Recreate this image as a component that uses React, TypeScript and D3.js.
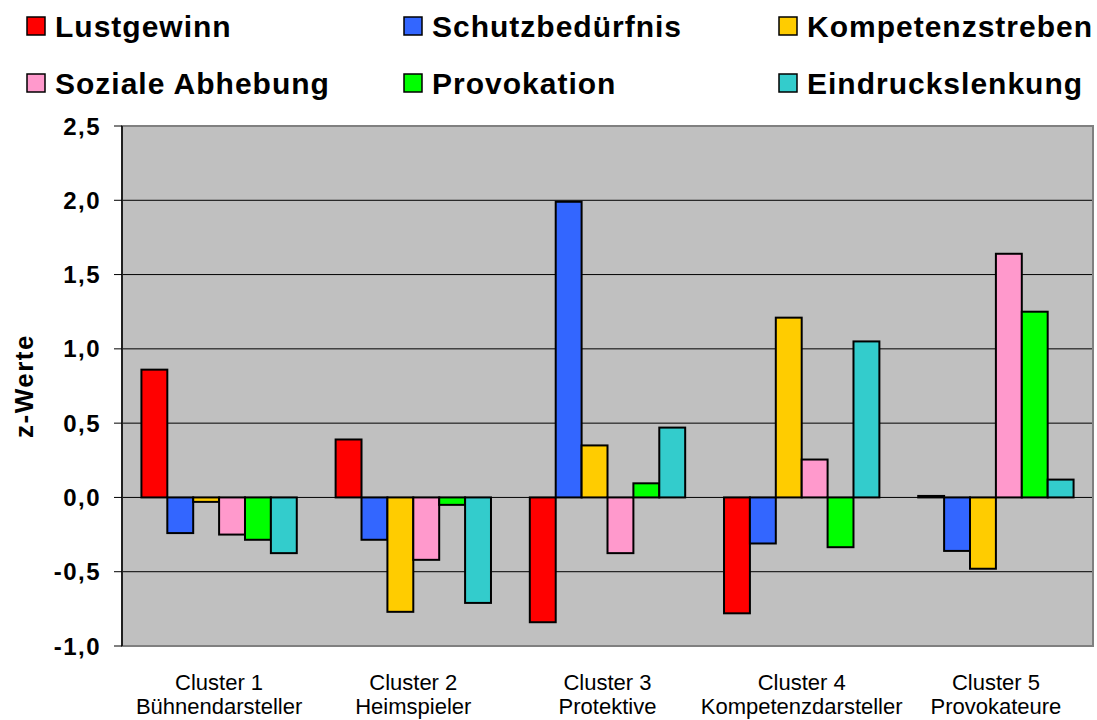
import React from "react";
import * as d3 from "d3";

const clusters = ["Cluster 1", "Cluster 2", "Cluster 3", "Cluster 4", "Cluster 5"];
const clusterNames = ["Bühnendarsteller", "Heimspieler", "Protektive", "Kompetenzdarsteller", "Provokateure"];
const seriesNames = ["Lustgewinn", "Schutzbedürfnis", "Kompetenzstreben", "Soziale Abhebung", "Provokation", "Eindruckslenkung"];
const seriesColors = ["#FF0000", "#3366FF", "#FFCC00", "#FF99CC", "#00FF00", "#33CCCC"];

const lustgewinn = [0.86, 0.39, -0.84, -0.78, 0.01];
const schutzbeduerfnis = [-0.24, -0.285, 1.99, -0.31, -0.36];
const kompetenzstreben = [-0.03, -0.77, 0.35, 1.21, -0.48];
const sozialeAbhebung = [-0.25, -0.42, -0.375, 0.255, 1.64];
const provokation = [-0.285, -0.05, 0.095, -0.335, 1.25];
const eindruckslenkung = [-0.375, -0.71, 0.47, 1.05, 0.12];

const yTicks = [2.5, 2.0, 1.5, 1.0, 0.5, 0.0, -0.5, -1.0];

const seriesValues = [lustgewinn, schutzbeduerfnis, kompetenzstreben, sozialeAbhebung, provokation, eindruckslenkung];

export default function App() {
  const W = 1097, H = 720;
  const left = 122, right = 1093, top = 126, bottom = 646;
  const y = d3.scaleLinear().domain([-1, 2.5]).range([bottom, top]);
  const x0 = d3.scaleBand<string>().domain(clusters).range([left, right]).paddingInner(0.2).paddingOuter(0.1);
  const x1 = d3.scaleBand<string>().domain(seriesNames).range([0, x0.bandwidth()]);
  const font = "Arial, 'Liberation Sans', Helvetica, sans-serif";
  const fmt = (v: number) => v.toFixed(1).replace(".", ",");

  const legendCols = [27, 404, 779];
  const legendRows = [17, 74];

  return (
    <svg width={W} height={H} style={{ position: "absolute", left: 0, top: 0, background: "#fff" }} fontFamily={font}>
      {/* legend */}
      {seriesNames.map((s, i) => {
        const cx = legendCols[i % 3];
        const ry = legendRows[Math.floor(i / 3)];
        return (
          <g key={s}>
            <rect x={cx} y={ry} width={18} height={18} fill={seriesColors[i]} stroke="#000" strokeWidth={1.5} />
            <text x={cx + 28} y={ry + 20} fontSize={30} fontWeight="bold" letterSpacing={1} fill="#000">{s}</text>
          </g>
        );
      })}

      {/* plot area */}
      <rect x={left} y={top} width={right - left} height={bottom - top} fill="#C0C0C0" />
      {yTicks.filter((t) => t > -1 && t < 2.5).map((t) => (
        <line key={t} x1={left} x2={right} y1={y(t)} y2={y(t)} stroke="#000" strokeWidth={1} />
      ))}
      <rect x={left} y={top} width={right - left} height={bottom - top} fill="none" stroke="#808080" strokeWidth={2} />

      {/* bars */}
      {clusters.map((c, ci) => (
        <g key={c} transform={`translate(${x0(c)},0)`}>
          {seriesNames.map((s, si) => {
            const v = seriesValues[si][ci];
            const y0 = y(0), yv = y(v);
            return (
              <rect key={s} x={x1(s)} y={Math.min(y0, yv)} width={x1.bandwidth()} height={Math.abs(yv - y0)}
                fill={seriesColors[si]} stroke="#000" strokeWidth={2} />
            );
          })}
        </g>
      ))}

      {/* y axis */}
      <line x1={left} x2={left} y1={top} y2={bottom} stroke="#000" strokeWidth={1.5} />
      {yTicks.map((t) => (
        <g key={t}>
          <line x1={left - 8} x2={left} y1={y(t)} y2={y(t)} stroke="#000" strokeWidth={1} />
          <text x={101} y={y(t)} dy="0.36em" textAnchor="end" fontSize={24} fontWeight="bold" letterSpacing={1.5} fill="#000">{fmt(t)}</text>
        </g>
      ))}
      <text transform={`translate(33,386) rotate(-90)`} textAnchor="middle" fontSize={26} fontWeight="bold" letterSpacing={1.5} fill="#000">z-Werte</text>

      {/* x labels */}
      {clusters.map((c, ci) => {
        const cx = (x0(c) as number) + x0.bandwidth() / 2;
        return (
          <g key={c}>
            <text x={cx} y={690} textAnchor="middle" fontSize={22} fill="#000">{c}</text>
            <text x={cx} y={714} textAnchor="middle" fontSize={22} fill="#000">{clusterNames[ci]}</text>
          </g>
        );
      })}
    </svg>
  );
}
